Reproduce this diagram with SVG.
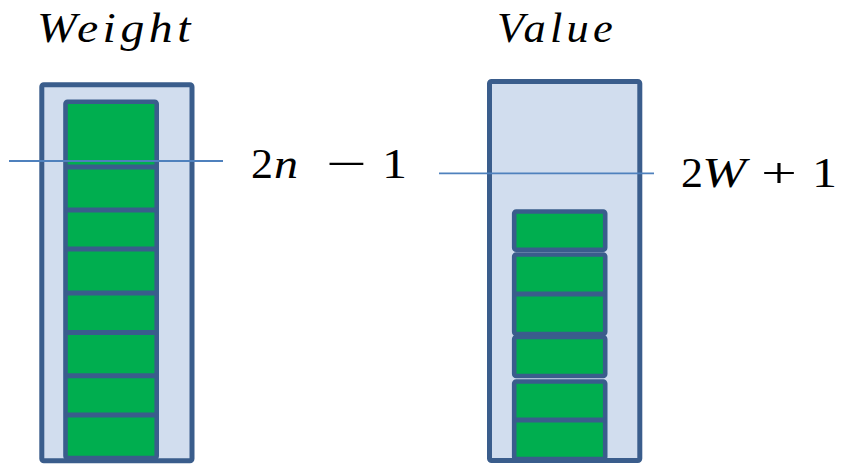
<svg xmlns="http://www.w3.org/2000/svg" width="847" height="464" viewBox="0 0 847 464">
  <style>
    .outer { fill: #D1DDEE; stroke: #3A5D8C; stroke-width: 5; }
    .cell { fill: #00AE4F; stroke: #3A5D8C; stroke-width: 4.6; }
    .div { stroke: #3A5D8C; stroke-width: 5; }
    .level { stroke: #4F81BD; stroke-width: 1.8; }
    text { font-family: 'Liberation Serif', 'Times New Roman', serif; fill: #000; }
    .title { font-style: italic; font-size: 42px; letter-spacing: 4px; }
    .math { font-size: 43px; }
    .var { font-style: italic; }
  </style>

  <!-- Weight stack -->
  <g id="weight">
    <text class="title" x="37" y="42" textLength="158" lengthAdjust="spacingAndGlyphs">Weight</text>
    <rect class="outer" x="41.8" y="84.8" width="150.2" height="376" rx="2"/>
    <rect class="cell" x="65.5" y="101.7" width="91.2" height="356.3" rx="2"/>
    <line class="div" x1="65.5" y1="167" x2="156.7" y2="167"/>
    <line class="div" x1="65.5" y1="210" x2="156.7" y2="210"/>
    <line class="div" x1="65.5" y1="249" x2="156.7" y2="249"/>
    <line class="div" x1="65.5" y1="293" x2="156.7" y2="293"/>
    <line class="div" x1="65.5" y1="332.5" x2="156.7" y2="332.5"/>
    <line class="div" x1="65.5" y1="375.7" x2="156.7" y2="375.7"/>
    <line class="div" x1="65.5" y1="415" x2="156.7" y2="415"/>
  </g>

  <!-- Value stack -->
  <g id="value">
    <text class="title" x="497" y="42" textLength="120" lengthAdjust="spacingAndGlyphs">Value</text>
    <rect class="outer" x="489.5" y="81.5" width="150.3" height="379" rx="2"/>
    <rect class="cell" x="514.2" y="211.5" width="91" height="38.3" rx="2"/>
    <rect class="cell" x="514.2" y="254.5" width="91" height="79.5" rx="2"/>
    <line class="div" x1="514.2" y1="294" x2="605.2" y2="294"/>
    <rect class="cell" x="514.2" y="337" width="91" height="39" rx="2"/>
    <rect class="cell" x="514.2" y="381.5" width="91" height="77.5" rx="2"/>
    <line class="div" x1="514.2" y1="420" x2="605.2" y2="420"/>
  </g>

  <!-- threshold lines -->
  <g id="connectors">
    <line class="level" x1="9" y1="161" x2="223" y2="161"/>
    <line class="level" x1="439" y1="173.3" x2="654" y2="173.3"/>
  </g>

  <!-- threshold labels -->
  <g id="label-weight">
    <text class="math" x="251" y="178.3" textLength="22" lengthAdjust="spacingAndGlyphs">2</text>
    <text class="math var" x="274" y="178.3" textLength="24" lengthAdjust="spacingAndGlyphs">n</text>
    <text class="math" x="326" y="178.3" textLength="41" lengthAdjust="spacingAndGlyphs">−</text>
    <text class="math" x="382" y="178.3" textLength="25" lengthAdjust="spacingAndGlyphs">1</text>
  </g>
  <g id="label-value">
    <text class="math" x="681" y="186.7" textLength="22" lengthAdjust="spacingAndGlyphs">2</text>
    <text class="math var" x="702" y="186.7" textLength="44" lengthAdjust="spacingAndGlyphs">W</text>
    <text class="math" x="761" y="186.7" textLength="36" lengthAdjust="spacingAndGlyphs">+</text>
    <text class="math" x="812" y="186.7" textLength="25" lengthAdjust="spacingAndGlyphs">1</text>
  </g>
</svg>
